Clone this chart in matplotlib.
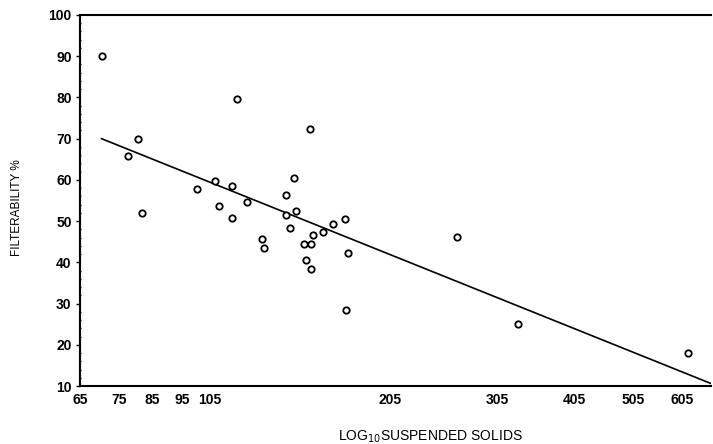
import matplotlib.pyplot as plt
from matplotlib.ticker import FixedLocator, NullFormatter, MultipleLocator

plt.rcParams['font.family'] = ['Liberation Sans', 'DejaVu Sans']

# suspended solids (mg/l) and filterability (%)
solids = [70.4, 116.1, 80.7, 77.7, 81.7, 152.4, 100.1, 107.2, 114.0, 108.9,
          120.8, 114.0, 143.5, 139.4, 144.5, 139.4, 141.5, 127.7, 128.7, 149.2,
          153.1, 154.1, 159.9, 165.9, 173.3, 150.3, 152.9, 175.4, 174.1, 262.3,
          328.9, 618.0]
filt = [90.1, 79.6, 70.0, 65.9, 51.9, 72.4, 57.8, 59.7, 58.6, 53.7,
        54.6, 50.7, 60.5, 56.4, 52.4, 51.5, 48.4, 45.6, 43.5, 44.5,
        44.5, 46.6, 47.4, 49.4, 50.4, 40.5, 38.5, 42.3, 28.4, 46.2,
        25.0, 17.9]

# fitted line end points
fit_x = [70.4, 673.0]
fit_y = [70.0, 10.6]

xticks = [65, 75, 85, 95, 105, 205, 305, 405, 505, 605]
yticks = [10, 20, 30, 40, 50, 60, 70, 80, 90, 100]

fig = plt.figure(figsize=(7.13, 4.44), dpi=100)
ax = fig.add_axes([80/713, 58/444, 631/713, 371/444])

ax.plot(fit_x, fit_y, color='black', lw=1.2)
ax.plot(solids, filt, 'o', mfc='white', mec='black', ms=4.6, mew=1.3)

ax.set_xscale('log')
ax.set_xlim(65, 673)
ax.set_ylim(10, 100)

ax.xaxis.set_major_locator(FixedLocator(xticks))
ax.set_xticklabels([str(t) for t in xticks])
ax.xaxis.set_minor_locator(FixedLocator([]))
ax.xaxis.set_minor_formatter(NullFormatter())
ax.set_yticks(yticks)
ax.yaxis.set_minor_locator(MultipleLocator(2))

for lab in ax.get_xticklabels() + ax.get_yticklabels():
    lab.set_fontweight('bold')
    lab.set_fontsize(10)

ax.tick_params(axis='y', which='major', direction='out', length=3, width=1, pad=3)
ax.tick_params(axis='y', which='minor', direction='inout', length=2, width=0.8)
ax.tick_params(axis='x', which='major', length=0, pad=5)

ax.spines['right'].set_visible(False)
for s in ['left', 'bottom', 'top']:
    ax.spines[s].set_linewidth(1.5)

ax.set_ylabel('FILTERABILITY %', fontsize=8.5)
ax.yaxis.set_label_coords(-57/631, 0.48)
ax.set_xlabel('LOG$_{10}$SUSPENDED SOLIDS', fontsize=10)
ax.xaxis.set_label_coords(0.555, -0.115)

fig.savefig('out.png', dpi=100)
